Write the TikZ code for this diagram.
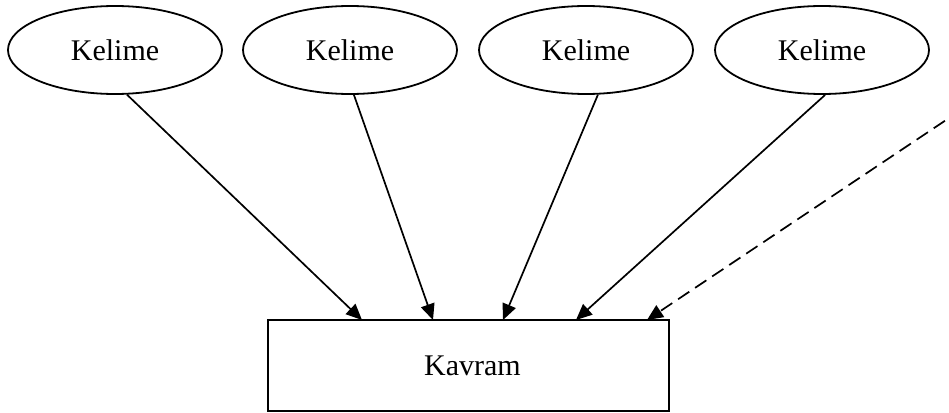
\documentclass[tikz,border=0pt]{standalone}
\usepackage{fontspec}
\setmainfont{Liberation Serif}
\usetikzlibrary{shapes.geometric,arrows.meta}
\begin{document}
\begin{tikzpicture}[x=1pt,y=-1pt,
  every node/.style={font=\fontsize{30}{36}\selectfont},
  word/.style={draw,ellipse,line width=1.8pt,minimum width=214pt,minimum height=88pt,inner sep=0pt},
  concept/.style={draw,rectangle,line width=1.8pt,minimum width=401pt,minimum height=91pt,inner sep=0pt},
  link/.style={line width=1.7pt,-{Triangle[length=16pt,width=14pt]}},
  maybe/.style={link,dash pattern=on 13.5pt off 7pt}]
\useasboundingbox (0,0) rectangle (949,412);
\clip (0,0) rectangle (949,412);
% word nodes
\node[word] (w1) at (115,50) {Kelime};
\node[word] (w2) at (350,50) {Kelime};
\node[word] (w3) at (586,50) {Kelime};
\node[word] (w4) at (822,50) {Kelime};
% concept box
\node[concept] (k) at (468.5,365.5) {\hspace*{8pt}Kavram};
% arrow targets on the top edge of the box
\coordinate (t1) at (362,320);
\coordinate (t2) at (433,320);
\coordinate (t3) at (503,320);
\coordinate (t4) at (576,320);
\coordinate (t5) at (647,320);
% free end of the dashed connector, beyond the right edge
\coordinate (far) at (979,98);
\draw[link] (w1.-75) -- (t1);
\draw[link] (w2.-85) -- (t2);
\draw[link] (w3.-75) -- (t3);
\draw[link] (w4.-86) -- (t4);
\draw[maybe] (far) -- (t5);
\end{tikzpicture}
\end{document}
